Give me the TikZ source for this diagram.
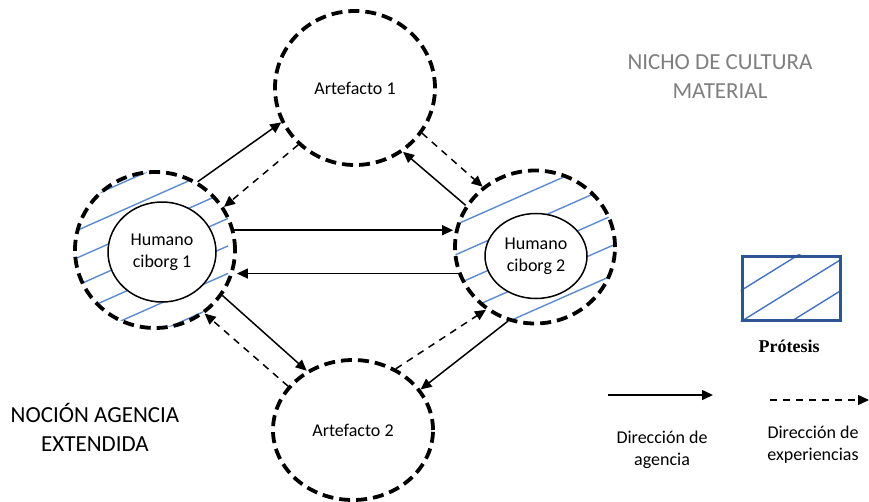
\documentclass[tikz,border=0pt]{standalone}
\usepackage{fontspec}
\setmainfont{Carlito}
\newfontfamily\protfont{Liberation Serif}
\usetikzlibrary{arrows.meta,positioning,backgrounds,shapes.geometric}
\definecolor{HatchBlue}{HTML}{5B8BD0}
\definecolor{ProtBord}{HTML}{2E5496}
\definecolor{ProtHatch}{HTML}{4472C4}
\definecolor{NichoGray}{HTML}{7F7F7F}
\tikzset{
  every picture/.append style={font=\fontsize{18}{22}\selectfont},
  ring/.style={ellipse, draw, line width=3.8pt, dash pattern=on 11pt off 6pt, inner sep=0pt},
  core/.style={ellipse, draw, fill=white, line width=1.5pt, inner sep=0pt, align=center},
  hatch/.style={draw=HatchBlue, line width=1.4pt},
  agency/.style={-{Triangle[length=11pt,width=10pt]}, line width=1.5pt},
  exper/.style={-{Triangle[length=11pt,width=10pt]}, line width=1.5pt, dash pattern=on 7pt off 6pt},
  prot/.style={rectangle, draw=ProtBord, line width=3pt, inner sep=0pt},
  lbl/.style={align=center},
  big/.style={align=center, font=\fontsize{23}{29}\selectfont},
}
\begin{document}
\begin{tikzpicture}[x=1pt,y=-1pt]
\useasboundingbox (0,0) rectangle (869,501);

% ---------------- artefacts and cyborgs ----------------------------------------
\node[ring, minimum width=160pt, minimum height=154pt] (a1) at (355,88) {Artefacto 1};
\node[ring, minimum width=160pt, minimum height=140pt] (a2) at (353,430) {Artefacto 2};
\node[ring, minimum width=160pt, minimum height=156pt] (h1) at (155,250) {};
\node[ring, minimum width=160pt, minimum height=153pt] (h2) at (535,247) {};
\node[core, minimum width=108pt, minimum height=100pt] (c1) at (162,252) {Humano\\ciborg 1};
\node[core, minimum width=102pt, minimum height=85pt] (c2) at (536,256) {Humano\\ciborg 2};

% prosthesis hatching inside the rings
\begin{scope}[on background layer]
  \begin{scope}
    \clip (h1.center) ellipse [x radius=80pt, y radius=78pt];
    \foreach \k in {-1,...,5}
      \draw[hatch] (-72,{296.6+27.5*\k}) -- ++(300,-133.2);
  \end{scope}
  \begin{scope}
    \clip (h2.center) ellipse [x radius=80pt, y radius=76pt];
    \foreach \k in {-1,...,5}
      \draw[hatch] (380,{258.2+30*\k}) -- ++(300,-132.6);
  \end{scope}
\end{scope}

% ---------------- agency / experience arrows -----------------------------------
\draw[agency] (h1.58) -- (a1.205);
\draw[exper] (a1.225) -- (h1.32);
\draw[agency] (h2.149) -- (a1.307);
\draw[exper] (a1.326) -- (h2.131);
\draw[agency] (h1.14) -- (h1.14 -| h2.west);
\draw[agency] (h2.199) -- (h2.199 -| h1.east);
\draw[agency] (h1.326) -- (a2.128);
\draw[exper] (a2.146) -- (h1.308);
\draw[exper] (a2.55) -- (h2.232);
\draw[agency] (h2.250) -- (a2.31);

% ---------------- titles --------------------------------------------------------
\node[big, text=NichoGray] (nicho) at (720,77) {NICHO DE CULTURA\\MATERIAL};
\node[big] (nocion) at (95,427) {NOCIÓN AGENCIA\\EXTENDIDA};

% ---------------- legend --------------------------------------------------------
\node[prot, minimum width=98pt, minimum height=64pt] (leg) at (791,288) {};
\begin{scope}[on background layer]
  \clip (leg.south west) rectangle (leg.north east);
  \foreach \b in {288,319,350}
    \draw[draw=ProtHatch, line width=1.4pt] (730,{\b+9.3}) -- ++(130,-80.6);
\end{scope}
\node[font=\protfont\bfseries\fontsize{18}{20}\selectfont] (legtxt) at (789,346) {Prótesis};

\coordinate (ag0) at (608,395);
\coordinate (ag1) at (713,395);
\draw[agency] (ag0) -- (ag1);
\node[lbl] (agtxt) at (662,450) {Dirección de\\agencia};

\coordinate (ex0) at (770,400);
\coordinate (ex1) at (869,400);
\draw[exper] (ex0) -- (ex1);
\node[lbl] (extxt) at (813,445) {Dirección de\\experiencias};

\end{tikzpicture}
\end{document}
